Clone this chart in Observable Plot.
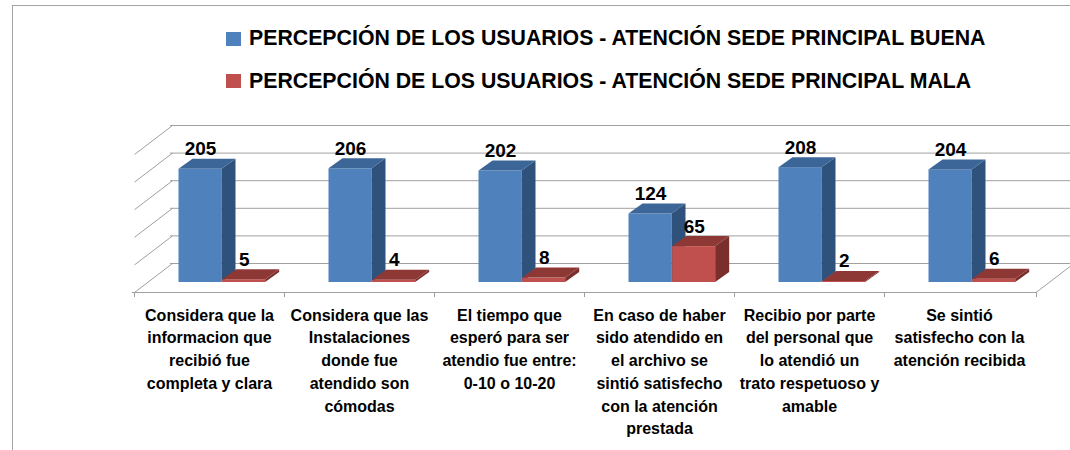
<!DOCTYPE html>
<html>
<head>
<meta charset="utf-8">
<script src="https://cdn.jsdelivr.net/npm/d3@7"></script>
<script src="https://cdn.jsdelivr.net/npm/@observablehq/plot@0.6"></script>
<style>
  html, body { margin: 0; padding: 0; background: #fff; }
  #wrap { position: relative; width: 1070px; height: 450px; overflow: hidden; font-family: "Liberation Sans", Arial, sans-serif; }
  #legend { position: relative; height: 105px; }
  .item { position: absolute; left: 226px; height: 24px; }
  .sw { position: absolute; left: 0; width: 15px; height: 14px; }
  .lbl { position: absolute; left: 23px; top: 0; font-size: 21.3px; line-height: 21px; font-weight: bold; white-space: nowrap; color: #000; }
  #frame { position: absolute; left: 12px; top: 5px; right: -5px; bottom: -5px; border-top: 1.5px solid #a3a3a3; border-left: 1.5px solid #a3a3a3; pointer-events: none; }
</style>
</head>
<body>
<div id="wrap">
  <div id="legend"></div>
  <div id="chart"></div>
  <div id="frame"></div>
</div>
<script>
// ---- data ----
const categories = [
  "Considera que la\ninformacion que\nrecibió fue\ncompleta y clara",
  "Considera que las\nInstalaciones\ndonde fue\natendido son\ncómodas",
  "El tiempo que\nesperó para ser\natendio fue entre:\n0-10 o 10-20",
  "En caso de haber\nsido atendido en\nel archivo se\nsintió satisfecho\ncon la atención\nprestada",
  "Recibio por parte\ndel personal que\nlo atendió un\ntrato respetuoso y\namable",
  "Se sintió\nsatisfecho con la\natención recibida"
];
const buena = [205, 206, 202, 124, 208, 204];
const mala = [5, 4, 8, 65, 2, 6];
const seriesNames = [
  "PERCEPCIÓN DE LOS USUARIOS - ATENCIÓN SEDE PRINCIPAL BUENA",
  "PERCEPCIÓN DE LOS USUARIOS - ATENCIÓN SEDE PRINCIPAL MALA"
];
const seriesColors = ["#4F81BD", "#C0504D"];
const yTicks = [0, 50, 100, 150, 200, 250];

const rows = categories.map((c, i) => ({cat: c, buena: buena[i], mala: mala[i]}));

// ---- legend ----
const legend = d3.select("#legend");
seriesNames.forEach((name, i) => {
  const it = legend.append("div").attr("class", "item").style("top", (i === 0 ? 28 : 71) + "px");
  it.append("div").attr("class", "sw").style("background", seriesColors[i]).style("top", (i === 0 ? 4 : 3) + "px");
  it.append("div").attr("class", "lbl").text(name);
});

// ---- 3D helpers ----
const BDX = 14, BDY = -10;     // bar depth
const WDX = 38, WDY = -29;     // floor/wall depth
function faces(topColor, sideColor) {
  return (index, scales, values, dimensions, context, next) => {
    const g = next(index, scales, values, dimensions, context);
    const sel = d3.select(g);
    const rects = sel.selectAll("rect").nodes();
    rects.forEach(node => {
      const r = d3.select(node);
      const x = +r.attr("x"), y = +r.attr("y"), w = +r.attr("width"), h = +r.attr("height");
      sel.append("path").attr("fill", sideColor)
        .attr("d", `M${x + w},${y}L${x + w + BDX},${y + BDY}L${x + w + BDX},${y + h + BDY}L${x + w},${y + h}Z`);
      sel.append("path").attr("fill", topColor)
        .attr("d", `M${x},${y}L${x + w},${y}L${x + w + BDX},${y + BDY}L${x + BDX},${y + BDY}Z`);
    });
    return g;
  };
}

function frameMark(index, scales, values, dimensions) {
  const {x, y} = scales;
  const g = d3.create("svg:g").attr("stroke", "#a0a0a0").attr("stroke-width", 1).attr("fill", "none");
  const x0 = x(categories[0]);
  const xEnd = dimensions.width - dimensions.marginRight;
  // left wall diagonals
  yTicks.forEach(v => {
    g.append("line").attr("x1", x0 + 0.5).attr("y1", y(v) + 0.5).attr("x2", x0 + WDX + 0.5).attr("y2", y(v) + WDY + 0.5);
  });
  // right floor edge
  g.append("line").attr("x1", xEnd).attr("y1", y(0) + 0.5).attr("x2", xEnd + WDX).attr("y2", y(0) + WDY + 0.5);
  // category boundary ticks
  const bounds = categories.map(c => x(c)).concat([xEnd]);
  bounds.forEach(bx => {
    g.append("line").attr("x1", Math.round(bx) + 0.5).attr("x2", Math.round(bx) + 0.5).attr("y1", y(0)).attr("y2", y(0) + 5);
  });
  return g.node();
}

const chart = Plot.plot({
  width: 1070,
  height: 345,
  marginLeft: 132,
  marginRight: 34,
  marginTop: 49,
  marginBottom: 158,
  style: {fontFamily: "'Liberation Sans', Arial, sans-serif", fontWeight: "bold", background: "transparent", color: "#000"},
  x: {type: "band", domain: categories, padding: 0, axis: null, label: null},
  y: {domain: [0, 250], axis: null},
  marks: [
    Plot.ruleY(yTicks, {stroke: "#a0a0a0", strokeWidth: 1, dx: WDX, dy: WDY}),
    Plot.ruleY([0], {stroke: "#a0a0a0", strokeWidth: 1}),
    frameMark,
    Plot.barY(rows, {x: "cat", y: "buena", fill: seriesColors[0], insetLeft: 31.5, insetRight: 75.5, dx: 13, dy: -10,
      render: faces("#3C6697", "#2F527D")}),
    Plot.barY(rows, {x: "cat", y: "mala", fill: seriesColors[1], insetLeft: 75.17, insetRight: 31.83, dx: 13, dy: -10,
      render: faces("#8E3835", "#7A2F2D")}),
    Plot.text(rows, {x: "cat", y: "buena", text: d => String(d.buena), dx: -9, dy: -24, lineAnchor: "bottom",
      fontSize: 19, fontWeight: "bold", fill: "#000"}),
    Plot.text(rows, {x: "cat", y: "mala", text: d => String(d.mala), dx: 34.7, dy: -24, lineAnchor: "bottom",
      fontSize: 19, fontWeight: "bold", fill: "#000"}),
    Plot.axisX({tickSize: 0, tickPadding: 12, fontSize: 16, fontWeight: "bold", lineHeight: 1.42, fill: "#000", tickFormat: d => d, label: null})
  ]
});
document.getElementById("chart").appendChild(chart);
</script>
</body>
</html>
